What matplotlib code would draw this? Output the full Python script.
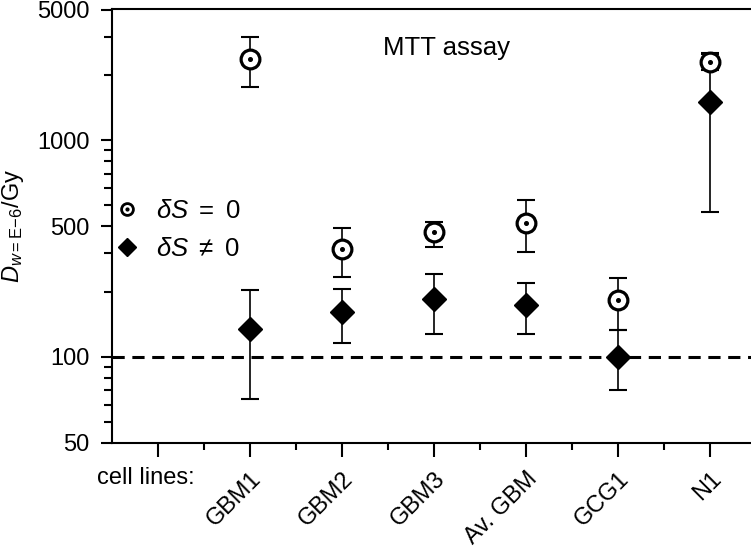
import numpy as np
import matplotlib
matplotlib.use("Agg")
import matplotlib.pyplot as plt
from matplotlib.ticker import FixedLocator, FixedFormatter, NullFormatter

plt.rcParams['font.family'] = ['Liberation Sans', 'DejaVu Sans']
plt.rcParams['mathtext.fontset'] = 'custom'
plt.rcParams['mathtext.it'] = 'Liberation Sans:italic'
plt.rcParams['mathtext.rm'] = 'Liberation Sans'

cell_lines = ['GBM1', 'GBM2', 'GBM3', 'Av. GBM', 'GCG1', 'N1']
pos = np.arange(1, 7)

# delta S = 0 (open circles)
d0 = [2380, 316, 375, 415, 182, 2300]
d0_lo = [1750, 234, 321, 305, 133, 2100]
d0_hi = [3000, 395, 421, 528, 230, 2530]

# delta S != 0 (diamonds)
d1 = [134, 161, 184, 173, 100, 1500]
d1_lo = [64, 116, 127, 127, 70, 464]
d1_hi = [203, 205, 240, 218, 133, 2500]

# tick marks as drawn in the original (labels as printed)
ytick_vals = [40, 100, 400, 1000, 4000]
ytick_labels = ['50', '100', '500', '1000', '5000']
yminor_vals = [50, 60, 70, 80, 90, 200, 300, 500, 600, 700, 800, 900, 2000, 3000]

fig = plt.figure(figsize=(7.51, 5.52), dpi=100)
ax = fig.add_axes([0.149, 0.1975, 0.858, 0.7862])

ax.set_yscale('log')
ax.set_ylim(40, 4030)
ax.set_xlim(-0.5, 6.5)

ax.axhline(100, color='black', lw=2.2, ls=(0, (4, 2.5)), zorder=1)

def errs(v, lo, hi):
    v = np.array(v); return [v - np.array(lo), np.array(hi) - v]

ax.errorbar(pos, d1, yerr=errs(d1, d1_lo, d1_hi), fmt='none', ecolor='black',
            elinewidth=1.2, capsize=6.5, capthick=1.5, zorder=2)
ax.errorbar(pos, d0, yerr=errs(d0, d0_lo, d0_hi), fmt='none', ecolor='black',
            elinewidth=1.2, capsize=6.5, capthick=1.5, zorder=2)
ax.plot(pos, d1, 'D', color='black', ms=12, zorder=3)
ax.plot(pos, d0, 'o', mfc='white', mec='black', mew=2.3, ms=13.5, zorder=4)
ax.plot(pos, d0, 'o', color='black', ms=2.6, zorder=5)

# legend handles
h0, = ax.plot([], [], 'o', mfc='white', mec='black', mew=2, ms=8.5)
h0d, = ax.plot([], [], 'o', color='black', ms=2)
h1, = ax.plot([], [], 'D', color='black', ms=9.5)
ax.legend([(h0, h0d), h1], [r'$\delta S\ =\ 0$', r'$\delta S\ \neq\ 0$'],
          loc='upper left', bbox_to_anchor=(-0.035, 0.615), frameon=False,
          fontsize=18.5, handlelength=1.1, handletextpad=0.6, labelspacing=0.55)

ax.text(0.52, 0.91, 'MTT assay', transform=ax.transAxes, ha='center',
        va='center', fontsize=18.5)

ax.yaxis.set_major_locator(FixedLocator(ytick_vals))
ax.yaxis.set_major_formatter(FixedFormatter(ytick_labels))
ax.yaxis.set_minor_locator(FixedLocator(yminor_vals))
ax.yaxis.set_minor_formatter(NullFormatter())
ax.tick_params(axis='y', which='major', direction='out', length=8, width=1.5,
               labelsize=17, pad=8, right=True)
ax.tick_params(axis='y', which='minor', direction='out', length=6, width=1.5,
               right=True)

ax.set_xticks(np.arange(0, 7))
ax.set_xticklabels([''] + cell_lines, rotation=45, ha='right',
                   rotation_mode='anchor', fontsize=17)
ax.set_xticks(np.arange(0.5, 6.5, 1), minor=True)
ax.tick_params(axis='x', which='major', direction='out', length=10, width=1.5, pad=8)
ax.tick_params(axis='x', which='minor', direction='out', length=5, width=1.5)

for s in ax.spines.values():
    s.set_linewidth(1.5)

ax.set_ylabel(r'$D_{w\mathrm{=E\!-\!6}}$/Gy', fontsize=17, labelpad=8)

fig.text(195 / 751, 1 - 478 / 552, 'cell lines:', ha='right', va='center',
         fontsize=17)

fig.savefig('out.png', dpi=100)
